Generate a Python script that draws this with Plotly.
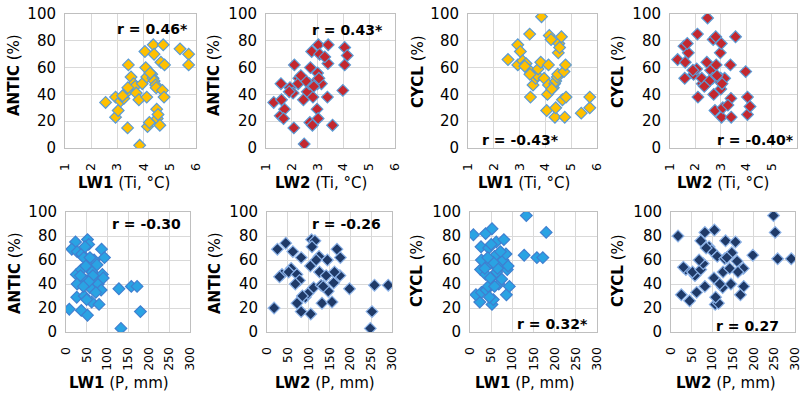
import plotly.graph_objects as go

W, H = 803, 395

# ---------------- data ----------------
# Group A: LW1 temperature (Ti, °C)
lw1_ti = [2.55, 2.93, 3.03, 2.93, 3.12, 3.25, 3.38, 3.42, 3.52, 3.62, 3.68, 3.72, 3.39, 3.82, 3.85,
          3.95, 4.05, 4.08, 4.12, 4.12, 4.15, 4.22, 4.37, 4.40, 4.31, 4.36, 4.40, 4.46, 4.48, 4.50,
          4.52, 4.62, 4.66, 4.75, 4.80, 4.72, 4.78, 5.39, 5.72, 5.72, 3.40, 3.20, 4.25, 4.55]
antic_a = [34, 23, 28, 38, 35, 37, 42, 62, 53, 48, 46, 41, 15, 36, 2,
           48, 72, 60, 53, 38, 16, 19, 77, 70, 55, 52, 50, 47, 45, 29,
           22, 17, 64, 77, 62, 43, 38, 74, 70, 62, 45, 39, 56, 25]
cycl_a = [66, 77, 72, 62, 65, 63, 58, 38, 47, 52, 54, 59, 85, 64, 98,
          52, 28, 40, 47, 62, 84, 81, 23, 30, 45, 48, 50, 53, 55, 71,
          78, 83, 36, 23, 38, 57, 62, 26, 30, 38, 55, 61, 44, 75]

# Group B: LW2 temperature (Ti, °C)
lw2_ti = [1.30, 1.58, 1.55, 1.60, 1.72, 1.68, 2.10, 1.93, 2.05, 2.08, 2.27, 2.38, 2.48, 2.45, 2.60,
          2.68, 2.77, 2.72, 2.82, 2.70, 2.80, 3.03, 3.08, 3.00, 2.95, 3.00, 3.15, 2.98, 3.02, 3.41,
          3.40, 3.38, 3.58, 3.28, 4.05, 4.15, 4.05, 3.98, 2.25, 2.55, 3.05, 2.85, 2.35, 1.90]
antic_b = [34, 48, 24, 36, 29, 22, 62, 45, 41, 15, 52, 53, 3, 36, 42,
           48, 72, 60, 38, 19, 17, 77, 70, 56, 50, 48, 48, 29, 22, 77,
           63, 38, 17, 68, 75, 69, 62, 43, 48, 50, 52, 46, 54, 42]
cycl_b = [66, 52, 76, 64, 71, 78, 38, 55, 59, 85, 48, 47, 97, 64, 58,
          52, 28, 40, 62, 81, 83, 23, 30, 44, 50, 52, 52, 71, 78, 23,
          37, 62, 83, 32, 25, 31, 38, 57, 52, 50, 48, 54, 46, 58]

# Group C: LW1 precipitation (P, mm)
lw1_p = [8, 23, 14, 27, 38, 52, 55, 46, 86, 93, 43, 68, 58, 25, 37,
         53, 63, 88, 27, 47, 70, 78, 85, 58, 26, 44, 62, 80, 37, 52,
         128, 158, 172, 180, 133, 75, 48, 65, 35, 55, 72, 50, 90, 42]
antic_c = [19, 75, 69, 67, 65, 77, 73, 71, 69, 62, 62, 60, 62, 48, 52,
           54, 50, 48, 40, 43, 44, 40, 35, 37, 29, 30, 25, 23, 18, 14,
           36, 38, 38, 17, 3, 56, 55, 47, 47, 42, 33, 27, 45, 38]
cycl_c = [81, 25, 31, 33, 35, 23, 27, 29, 31, 38, 38, 40, 38, 52, 48,
          46, 50, 52, 60, 57, 56, 60, 65, 63, 71, 70, 75, 77, 82, 86,
          64, 62, 62, 83, 97, 44, 45, 53, 53, 58, 67, 73, 55, 62]

# Group D: LW2 precipitation (P, mm)
lw2_p = [17, 25, 45, 36, 30, 58, 52, 62, 72, 78, 68, 72, 82, 82, 92,
         98, 107, 115, 108, 104, 105, 112, 125, 126, 130, 132, 145, 142, 147, 156,
         160, 168, 176, 168, 175, 198, 258, 291, 252, 248, 118, 85, 135, 162]
antic_d = [20, 69, 74, 48, 46, 53, 50, 67, 48, 43, 40, 24, 17, 62, 29,
           32, 77, 76, 71, 55, 15, 37, 63, 50, 39, 24, 60, 47, 34, 25,
           41, 69, 62, 48, 47, 36, 39, 39, 17, 3, 60, 30, 38, 50]
cycl_d = [80, 31, 26, 52, 54, 47, 50, 33, 52, 57, 60, 76, 83, 38, 71,
          68, 23, 24, 29, 45, 85, 63, 37, 50, 61, 76, 40, 53, 66, 75,
          59, 31, 38, 52, 53, 64, 61, 61, 83, 97, 40, 70, 62, 50]

x_titles = ["LW1|(Ti, °C)", "LW2|(Ti, °C)", "LW1|(Ti, °C)", "LW2|(Ti, °C)",
            "LW1|(P, mm)", "LW2|(P, mm)", "LW1|(P, mm)", "LW2|(P, mm)"]
y_titles = ["ANTIC", "ANTIC", "CYCL", "CYCL", "ANTIC", "ANTIC", "CYCL", "CYCL"]
r_labels = ["r = 0.46*", "r = 0.43*", "r = -0.43*", "r = -0.40*",
            "r = -0.30", "r = -0.26", "r = 0.32*", "r = 0.27"]

# ---------------- styling / layout ----------------
ORANGE = dict(color="#FFC000", line=dict(color="#5B9BD5", width=1.2))
RED = dict(color="#C3282F", line=dict(color="#5B9BD5", width=1.2))
LBLUE = dict(color="#2AA3E3", line=dict(color="#3F7FD0", width=1.2))
NAVY = dict(color="#1F3A68", line=dict(color="#8DB3E8", width=1.2))

panels = [
    (lw1_ti, antic_a, ORANGE), (lw2_ti, antic_b, RED),
    (lw1_ti, cycl_a, ORANGE), (lw2_ti, cycl_b, RED),
    (lw1_p, antic_c, LBLUE), (lw2_p, antic_d, NAVY),
    (lw1_p, cycl_c, LBLUE), (lw2_p, cycl_d, NAVY),
]

# plot-area pixel boxes (left, right, top, bottom)
boxes = [(65, 196, 14, 148), (266, 395, 14, 148), (468, 597, 14, 148), (670, 797, 14, 148),
         (66, 190, 212, 332), (267, 392, 212, 332), (470, 597, 212, 332), (671, 795, 212, 332)]
xt_pos = [(124, 183), (321, 183), (524, 183), (723, 183),
          (119, 383), (325, 383), (525, 383), (726, 383)]
yt_pos = [(14, 75), (214, 75), (418, 72), (618, 72),
          (15, 273), (215, 273), (417, 271), (618, 271)]
r_pos = [(152, 29), (347, 30.5), (520, 140), (755, 140),
         (146, 224), (346, 224), (552, 323.5), (747, 326)]


def px(x):
    return x / W


def py(y):
    return 1 - y / H


fig = go.Figure()
annotations = []
FONT = "DejaVu Sans"

for i, (xs, ys, mk) in enumerate(panels):
    n = i + 1
    sfx = "" if n == 1 else str(n)
    fig.add_trace(go.Scatter(
        x=xs, y=ys, mode="markers", xaxis="x" + sfx, yaxis="y" + sfx,
        marker=dict(symbol="diamond", size=9, color=mk["color"], line=mk["line"]),
        showlegend=False, hoverinfo="skip"))
    l, r, t, b = boxes[i]
    top_row = i < 4
    fig.layout["xaxis" + sfx] = dict(
        domain=[px(l), px(r)], anchor="y" + sfx, automargin=False,
        range=[1, 6] if top_row else [0, 300], dtick=1 if top_row else 50,
        tick0=1 if top_row else 0,
        showgrid=True, gridcolor="#D9D9D9", gridwidth=1, zeroline=False,
        showline=True, linecolor="#BFBFBF", linewidth=1, mirror=True,
        ticks="", tickangle=-90, ticklabelstandoff=9,
        tickfont=dict(family=FONT, size=12.5, color="#000000"))
    fig.layout["yaxis" + sfx] = dict(
        domain=[py(b), py(t)], anchor="x" + sfx, automargin=False,
        range=[0, 100], dtick=20,
        showgrid=True, gridcolor="#D9D9D9", gridwidth=1, zeroline=False,
        showline=True, linecolor="#BFBFBF", linewidth=1, mirror=True,
        ticks="", ticklabelstandoff=5,
        tickfont=dict(family=FONT, size=15, color="#000000"))

    bold, rest = x_titles[i].split("|")
    annotations.append(dict(
        x=px(xt_pos[i][0]), y=py(xt_pos[i][1]), xref="paper", yref="paper",
        text="<b>%s</b> %s" % (bold, rest), showarrow=False,
        xanchor="center", yanchor="middle",
        font=dict(family=FONT, size=15, color="#000000")))
    annotations.append(dict(
        x=px(yt_pos[i][0]), y=py(yt_pos[i][1]), xref="paper", yref="paper",
        text="<b>%s</b> (%%)" % y_titles[i], showarrow=False, textangle=-90,
        xanchor="center", yanchor="middle",
        font=dict(family=FONT, size=15, color="#000000")))
    annotations.append(dict(
        x=px(r_pos[i][0]), y=py(r_pos[i][1]), xref="paper", yref="paper",
        text="<b>%s</b>" % r_labels[i], showarrow=False,
        xanchor="center", yanchor="middle",
        font=dict(family=FONT, size=14, color="#000000")))

fig.update_layout(
    width=W, height=H, margin=dict(l=0, r=0, t=0, b=0, autoexpand=False),
    paper_bgcolor="white", plot_bgcolor="white",
    annotations=annotations)

fig.write_html(
    "out.html",
    config={"displayModeBar": False},
    post_script="document.body.style.margin='0px';document.body.style.overflow='hidden';")
